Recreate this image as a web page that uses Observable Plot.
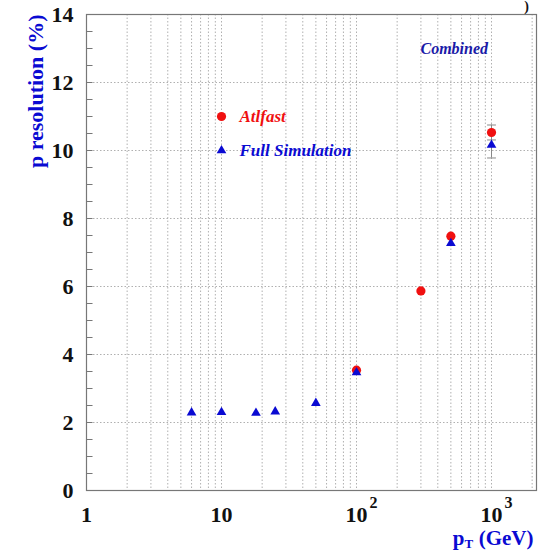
<!DOCTYPE html>
<html><head><meta charset="utf-8">
<script src="https://cdn.jsdelivr.net/npm/d3@7"></script>
<script src="https://cdn.jsdelivr.net/npm/@observablehq/plot@0.6"></script>
<style>body{margin:0;background:#fff}</style>
</head><body><div id="chart"></div>
<script>
// Data
const fullPt  = [6, 10, 18, 25, 50, 100, 500, 1000];
const fullRes = [2.29, 2.30, 2.28, 2.32, 2.57, 3.47, 7.27, 10.16];
const fullErr = [0, 0, 0, 0, 0, 0, 0, 0.38];
const fastPt  = [100, 300, 500, 1000];
const fastRes = [3.54, 5.87, 7.48, 10.53];
const fastErr = [0, 0, 0, 0.22];
const yTickValues = [0, 2, 4, 6, 8, 10, 12, 14];
const yMinorTicks = d3.range(0.5, 14, 0.5);
const xTickValues = [1, 10, 100, 1000];
const xTickMain = ["1", "10", "10", "10"];
const xTickExp = ["", "", "2", "3"];
const xGrid = [2,3,4,5,6,7,8,9,10,20,30,40,50,60,70,80,90,100,200,300,400,500,600,700,800,900,1000,2000];
const yGrid = [2, 4, 6, 8, 10, 12];
const legendLabels = ["Atlfast", "Full Simulation"];
const legendX = [10, 10];
const legendY = [11, 10];
const tagText = ["Combined"];
const tagX = [530];
const tagY = [13];

const RED = "#f01010", BLUE = "#0a0ad2", NAVY = "#1a1aa8";
const font = "'Liberation Serif', 'Times New Roman', serif";

const full = fullPt.map((x, i) => ({x, y: fullRes[i], e: fullErr[i]}));
const fast = fastPt.map((x, i) => ({x, y: fastRes[i], e: fastErr[i]}));
const errs = [...fast, ...full].filter(d => d.e > 0);

const hline = {draw(ctx, size) { const w = Math.sqrt(size); ctx.moveTo(-w, 0); ctx.lineTo(w, 0); }};
const tickR = {draw(ctx, size) { ctx.moveTo(0, 0); ctx.lineTo(Math.sqrt(size), 0); }};

const plot = Plot.plot({
  width: 541, height: 551,
  marginTop: 14, marginBottom: 61, marginLeft: 86, marginRight: 5,
  style: {fontFamily: font, background: "#fff"},
  x: {type: "log", domain: [1, 2154], axis: null},
  y: {domain: [0, 14], axis: null},
  marks: [
    Plot.ruleX(xGrid, {stroke: "#b0b0b0", strokeDasharray: "1.5,2", strokeWidth: 1}),
    Plot.ruleY(yGrid, {stroke: "#b0b0b0", strokeDasharray: "1.5,2", strokeWidth: 1}),
    Plot.dot(yMinorTicks, {y: d => d, frameAnchor: "left", symbol: tickR, r: 3.4, stroke: "#777", strokeWidth: 1}),
    Plot.frame({stroke: "#777", strokeWidth: 1.2}),
    // error bars
    Plot.ruleX(errs, {x: "x", y1: d => d.y - d.e, y2: d => d.y + d.e, stroke: "#888", strokeWidth: 1}),
    Plot.dot(errs, {x: "x", y: d => d.y - d.e, symbol: hline, r: 2.5, stroke: "#888", strokeWidth: 1}),
    Plot.dot(errs, {x: "x", y: d => d.y + d.e, symbol: hline, r: 2.5, stroke: "#888", strokeWidth: 1}),
    // data
    Plot.dot(fast, {x: "x", y: "y", r: 4.6, fill: RED, stroke: null}),
    Plot.dot(full, {x: "x", y: "y", symbol: "triangle", r: 3.6, fill: BLUE, stroke: null}),
    // legend
    Plot.dot([0], {x: () => legendX[0], y: () => legendY[0], r: 4.6, fill: RED, stroke: null}),
    Plot.dot([0], {x: () => legendX[1], y: () => legendY[1], symbol: "triangle", r: 3.6, fill: BLUE, stroke: null}),
    Plot.text(legendLabels, {x: (d, i) => legendX[i], y: (d, i) => legendY[i], text: d => d, dx: 18, textAnchor: "start",
      fill: (d, i) => i === 0 ? RED : BLUE, fontSize: 17, fontWeight: "bold", fontStyle: "italic"}),
    Plot.text(tagText, {x: (d, i) => tagX[i], y: (d, i) => tagY[i], text: d => d, textAnchor: "middle",
      fill: NAVY, fontSize: 16, fontWeight: "bold", fontStyle: "italic"}),
    // y tick labels
    Plot.text(yTickValues, {y: d => d, frameAnchor: "left", dx: -13, textAnchor: "end", lineAnchor: "middle",
      text: d => String(d), fontSize: 22, fontWeight: "bold", fill: "#111"}),
    // x tick labels
    Plot.text(xTickValues, {x: d => d, frameAnchor: "bottom", dy: 31, lineAnchor: "bottom", textAnchor: "middle",
      text: (d, i) => xTickMain[i], fontSize: 22, fontWeight: "bold", fill: "#111"}),
    Plot.text(xTickValues, {x: d => d, frameAnchor: "bottom", dx: 13, dy: 17, lineAnchor: "bottom", textAnchor: "start",
      text: (d, i) => xTickExp[i], fontSize: 16, fontWeight: "bold", fill: "#111"}),
    // axis titles
    Plot.text(["p resolution (%)"], {frameAnchor: "top-left", rotate: -90, textAnchor: "end", lineAnchor: "bottom",
      dx: -44, dy: 0, fill: BLUE, fontSize: 22, fontWeight: "bold"}),
    Plot.text(["p"], {frameAnchor: "bottom-right", textAnchor: "end", lineAnchor: "bottom", dx: -72, dy: 54,
      fill: BLUE, fontSize: 21, fontWeight: "bold"}),
    Plot.text(["T"], {frameAnchor: "bottom-right", textAnchor: "start", lineAnchor: "bottom", dx: -72, dy: 57,
      fill: BLUE, fontSize: 13, fontWeight: "bold"}),
    Plot.text(["(GeV)"], {frameAnchor: "bottom-right", textAnchor: "end", lineAnchor: "bottom", dx: -3, dy: 54,
      fill: BLUE, fontSize: 21, fontWeight: "bold"}),
    Plot.text([")"], {frameAnchor: "top-right", textAnchor: "middle", lineAnchor: "top", dx: -10, dy: -13,
      fill: "#111", fontSize: 14, fontWeight: "bold"})
  ]
});
document.getElementById("chart").appendChild(plot);
</script>
</body></html>
